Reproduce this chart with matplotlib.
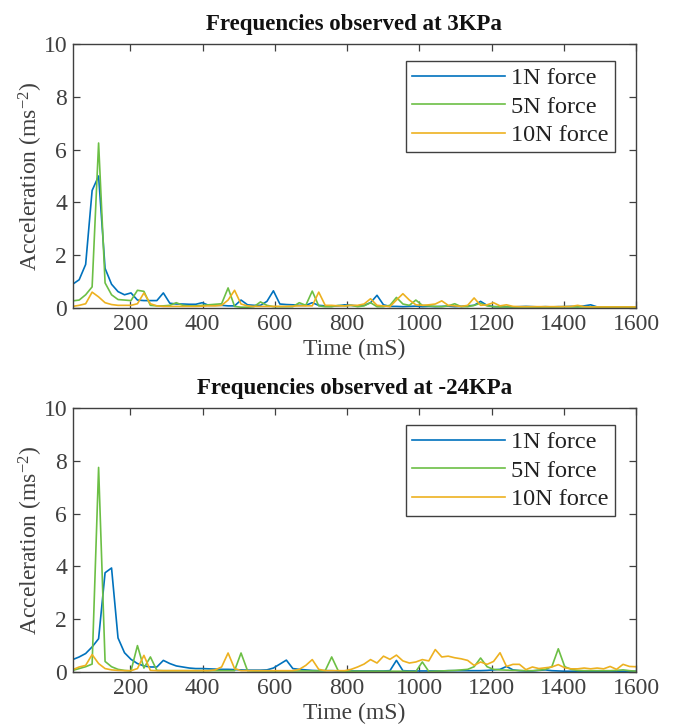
import numpy as np
import matplotlib
matplotlib.use("Agg")
import matplotlib.pyplot as plt

plt.rcParams['font.family'] = ['Liberation Serif', 'DejaVu Serif']
plt.rcParams['mathtext.fontset'] = 'custom'
plt.rcParams['mathtext.rm'] = 'Liberation Serif'
plt.rcParams['mathtext.it'] = 'Liberation Serif:italic'

# sampling grid (ms)
time_ms = np.linspace(40, 1600, 88)

series_labels = ["1N force", "5N force", "10N force"]
titles = ["Frequencies observed at 3KPa", "Frequencies observed at -24KPa"]

# ---- 3 KPa ----
top_1n = [0.9, 1.07, 1.65, 4.45, 5.0, 1.5, 0.9, 0.62, 0.5, 0.57,
          0.3, 0.28, 0.28, 0.28, 0.57, 0.18, 0.15, 0.15, 0.14, 0.14,
          0.2, 0.1, 0.1, 0.1, 0.08, 0.08, 0.3, 0.12, 0.1, 0.1,
          0.25, 0.65, 0.15, 0.13, 0.12, 0.1, 0.1, 0.2, 0.1, 0.08,
          0.08, 0.08, 0.12, 0.1, 0.08, 0.1, 0.2, 0.48, 0.12, 0.06,
          0.06, 0.05, 0.06, 0.07, 0.05, 0.06, 0.05, 0.06, 0.07, 0.05,
          0.06, 0.08, 0.1, 0.25, 0.1, 0.05, 0.05, 0.05, 0.04, 0.05,
          0.06, 0.05, 0.04, 0.05, 0.04, 0.05, 0.05, 0.06, 0.05, 0.08,
          0.12, 0.04, 0.03, 0.03, 0.03, 0.03, 0.03, 0.03]
top_5n = [0.27, 0.3, 0.5, 0.8, 6.25, 0.95, 0.5, 0.32, 0.3, 0.28,
          0.67, 0.63, 0.1, 0.08, 0.08, 0.1, 0.2, 0.1, 0.08, 0.08,
          0.1, 0.12, 0.14, 0.16, 0.76, 0.06, 0.03, 0.03, 0.05, 0.23,
          0.1, 0.05, 0.05, 0.05, 0.05, 0.2, 0.1, 0.64, 0.08, 0.05,
          0.05, 0.1, 0.08, 0.1, 0.05, 0.08, 0.2, 0.05, 0.05, 0.1,
          0.4, 0.15, 0.1, 0.3, 0.1, 0.08, 0.06, 0.05, 0.08, 0.16,
          0.05, 0.05, 0.1, 0.18, 0.08, 0.05, 0.04, 0.04, 0.04, 0.04,
          0.04, 0.04, 0.04, 0.04, 0.04, 0.04, 0.05, 0.04, 0.04, 0.04,
          0.04, 0.03, 0.03, 0.03, 0.03, 0.03, 0.03, 0.03]
top_10n = [0.06, 0.1, 0.16, 0.6, 0.42, 0.2, 0.13, 0.1, 0.1, 0.1,
           0.16, 0.57, 0.16, 0.08, 0.06, 0.06, 0.06, 0.06, 0.06, 0.06,
           0.07, 0.08, 0.08, 0.1, 0.3, 0.67, 0.15, 0.08, 0.06, 0.06,
           0.06, 0.06, 0.06, 0.06, 0.07, 0.08, 0.08, 0.08, 0.6, 0.1,
           0.1, 0.08, 0.08, 0.1, 0.1, 0.15, 0.35, 0.1, 0.08, 0.05,
           0.3, 0.54, 0.3, 0.12, 0.1, 0.12, 0.15, 0.27, 0.1, 0.08,
           0.06, 0.1, 0.38, 0.1, 0.12, 0.2, 0.08, 0.12, 0.06, 0.05,
           0.05, 0.05, 0.05, 0.05, 0.05, 0.05, 0.05, 0.06, 0.1, 0.05,
           0.04, 0.04, 0.04, 0.04, 0.04, 0.04, 0.04, 0.04]

# ---- -24 KPa ----
bot_1n = [0.47, 0.57, 0.7, 0.95, 1.26, 3.76, 3.94, 1.29, 0.73, 0.48,
          0.32, 0.23, 0.19, 0.19, 0.44, 0.32, 0.23, 0.19, 0.15, 0.13,
          0.13, 0.12, 0.11, 0.1, 0.1, 0.09, 0.08, 0.07, 0.07, 0.07,
          0.08, 0.15, 0.3, 0.45, 0.13, 0.1, 0.08, 0.06, 0.05, 0.05,
          0.05, 0.04, 0.04, 0.04, 0.04, 0.04, 0.04, 0.04, 0.04, 0.05,
          0.44, 0.05, 0.04, 0.04, 0.04, 0.04, 0.04, 0.04, 0.05, 0.05,
          0.05, 0.05, 0.05, 0.05, 0.06, 0.08, 0.1, 0.21, 0.08, 0.05,
          0.04, 0.04, 0.06, 0.08, 0.05, 0.04, 0.03, 0.03, 0.03, 0.03,
          0.03, 0.03, 0.03, 0.03, 0.03, 0.03, 0.03, 0.03]
bot_5n = [0.06, 0.13, 0.2, 0.3, 7.75, 0.4, 0.2, 0.1, 0.06, 0.04,
          1.0, 0.15, 0.57, 0.06, 0.05, 0.05, 0.05, 0.05, 0.05, 0.05,
          0.05, 0.05, 0.05, 0.05, 0.05, 0.05, 0.72, 0.05, 0.04, 0.04,
          0.04, 0.04, 0.04, 0.04, 0.04, 0.04, 0.04, 0.04, 0.04, 0.05,
          0.57, 0.05, 0.03, 0.03, 0.03, 0.03, 0.03, 0.03, 0.03, 0.03,
          0.03, 0.03, 0.02, 0.02, 0.38, 0.02, 0.03, 0.04, 0.05, 0.06,
          0.08, 0.1, 0.2, 0.53, 0.2, 0.1, 0.08, 0.07, 0.06, 0.06,
          0.05, 0.05, 0.07, 0.1, 0.2, 0.88, 0.2, 0.1, 0.06, 0.05,
          0.05, 0.05, 0.05, 0.05, 0.06, 0.08, 0.05, 0.03]
bot_10n = [0.09, 0.19, 0.25, 0.66, 0.32, 0.13, 0.08, 0.06, 0.05, 0.05,
           0.13, 0.63, 0.06, 0.05, 0.05, 0.05, 0.05, 0.05, 0.05, 0.05,
           0.05, 0.05, 0.08, 0.19, 0.72, 0.13, 0.05, 0.05, 0.05, 0.05,
           0.05, 0.05, 0.05, 0.05, 0.05, 0.1, 0.25, 0.47, 0.1, 0.05,
           0.05, 0.05, 0.05, 0.1, 0.19, 0.3, 0.47, 0.34, 0.6, 0.48,
           0.64, 0.42, 0.34, 0.38, 0.47, 0.42, 0.85, 0.57, 0.6, 0.54,
           0.5, 0.44, 0.25, 0.38, 0.29, 0.4, 0.73, 0.21, 0.29, 0.29,
           0.09, 0.19, 0.13, 0.16, 0.19, 0.28, 0.16, 0.12, 0.12, 0.15,
           0.12, 0.15, 0.12, 0.21, 0.1, 0.29, 0.21, 0.2]

colors = ['#0072BD', '#6CBF45', '#EDB120']
axis_color = '#404040'
FS = 17

fig = plt.figure(figsize=(6.75, 7.25), dpi=100)
ax_top = fig.add_axes([0.1077, 0.5752, 0.8345, 0.3641])
ax_bot = fig.add_axes([0.1077, 0.0731, 0.8345, 0.3641])

for ax, title, data in [(ax_top, titles[0], (top_1n, top_5n, top_10n)),
                        (ax_bot, titles[1], (bot_1n, bot_5n, bot_10n))]:
    for vals, c, lab in zip(data, colors, series_labels):
        ax.plot(time_ms, vals, color=c, lw=1.2, label=lab)
    ax.set_xlim(40, 1600)
    ax.set_ylim(0, 10)
    ax.set_xticks([200, 400, 600, 800, 1000, 1200, 1400, 1600])
    ax.set_yticks([0, 2, 4, 6, 8, 10])
    ax.tick_params(direction='in', top=True, right=True, length=5, width=0.9,
                   color=axis_color, labelcolor=axis_color, labelsize=FS, pad=4)
    for s in ax.spines.values():
        s.set_color(axis_color)
        s.set_linewidth(1.0)
    ax.set_title(title, fontsize=16.5, fontweight='bold', pad=10, color='#111111')
    ax.set_xlabel('Time (mS)', fontsize=FS, color=axis_color, labelpad=3)
    ax.set_ylabel(r'Acceleration (ms$^{\mathrm{-2}}$)', fontsize=FS, color=axis_color, labelpad=-1)
    leg = ax.legend(loc='upper right', bbox_to_anchor=(0.9627, 0.9356), borderaxespad=0,
                    fontsize=17.5, handlelength=3.85, handletextpad=0.25, labelspacing=0.27,
                    fancybox=False, framealpha=1, edgecolor=axis_color, borderpad=0.25)
    leg.get_frame().set_linewidth(1.0)
    for t in leg.get_texts():
        t.set_color('#222222')

fig.savefig('out.png', dpi=100)
